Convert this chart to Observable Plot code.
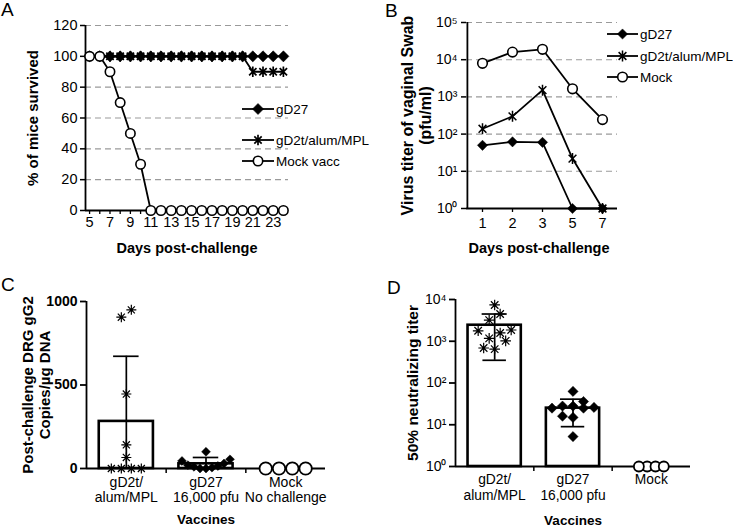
<!DOCTYPE html>
<html><head><meta charset="utf-8">
<script src="https://cdn.jsdelivr.net/npm/d3@7"></script>
<script src="https://cdn.jsdelivr.net/npm/@observablehq/plot@0.6"></script>
<style>
body{margin:0;background:#fff;}
#wrap{position:relative;width:733px;height:528px;overflow:hidden;font-family:"Liberation Sans",Arial,Helvetica,sans-serif;color:#000;background:#fff;}
.letter{position:absolute;font-size:19px;line-height:1;}
</style></head><body><div id="wrap"></div>
<script>
// ---------- Panel A data ----------
const daysA = [5,6,7,8,9,10,11,12,13,14,15,16,17,18,19,20,21,22,23,24];
const survivalGD27 = [100,100,100,100,100,100,100,100,100,100,100,100,100,100,100,100,100,100,100,100];
const survivalGD2t = [100,100,100,100,100,100,100,100,100,100,100,100,100,100,100,100,90,90,90,90];
const survivalMock = [100,100,90,70,50,30,0,0,0,0,0,0,0,0,0,0,0,0,0,0];
const yTicksA = [0,20,40,60,80,100,120];
const xLabelsA = [5,7,9,11,13,15,17,19,21,23];
const legendA = ["gD27","gD2t/alum/MPL","Mock vacc"];

// ---------- Panel B data ----------
const daysB = ["1","2","3","5","7"];
const titerGD27 = [50, 62, 60, 1, 1];
const titerGD2t = [139, 300, 1520, 22, 1];
const titerMock = [8000, 16000, 19000, 1650, 245];
const yTicksB = [1,10,100,1000,10000,100000];
const legendB = ["gD27","gD2t/alum/MPL","Mock"];

// ---------- Panel C data ----------
const groupLabelsC = ["gD2t/\nalum/MPL", "gD27\n16,000 pfu", "Mock\nNo challenge"];
const dnaGD2t = [950, 906, 446, 142, 66, 0, 0, 0, 0];
const dnaGD27 = [100, 55, 45, 30, 20, 15, 10, 5, 0, 0];
const dnaMock = [0, 0, 0, 0];
const dnaMean = [282, 28, 0];
const dnaSD = [390, 38, 0];
const yTicksC = [0, 500, 1000];

// ---------- Panel D data ----------
const groupLabelsD = ["gD2t/\nalum/MPL", "gD27\n16,000 pfu", "Mock"];
const ntGD2t = [7400, 4500, 3200, 1860, 1780, 1580, 1170, 1020, 690, 650];
const ntGD27 = [63, 36, 28, 28, 26, 25, 25, 16, 15, 5.2];
const ntMock = [1, 1, 1, 1];
const ntMean = [2420, 25, 1];
const ntSD = [2070, 16, 0];
const yTicksD = [1, 10, 100, 1000, 10000];

// ---------- helpers ----------
const FONT = '"Liberation Sans", Arial, Helvetica, sans-serif';
const wrap = document.getElementById("wrap");
function place(node, left, top) {
  node.style.position = "absolute"; node.style.left = left + "px"; node.style.top = top + "px";
  wrap.appendChild(node);
}
const baseStyle = {fontFamily: FONT, fontSize: "14px", color: "#000", background: "transparent", overflow: "visible"};
const SUP = {"0":"\u2070","1":"\u00b9","2":"\u00b2","3":"\u00b3","4":"\u2074","5":"\u2075"};
const pow10 = d => "10" + String(Math.round(Math.log10(d))).split("").map(c => SUP[c]).join("");
const star6 = {draw(ctx, size) { const r = Math.sqrt(size / Math.PI), d = r * Math.SQRT1_2;
  ctx.moveTo(0, -r); ctx.lineTo(0, r); ctx.moveTo(-d, -d); ctx.lineTo(d, d); ctx.moveTo(-d, d); ctx.lineTo(d, -d); }};
const star8 = {draw(ctx, size) { const r = Math.sqrt(size / Math.PI), d = r * Math.SQRT1_2;
  ctx.moveTo(0, -r); ctx.lineTo(0, r); ctx.moveTo(-r, 0); ctx.lineTo(r, 0);
  ctx.moveTo(-d, -d); ctx.lineTo(d, d); ctx.moveTo(-d, d); ctx.lineTo(d, -d); }};
const GRID = {stroke: "#9a9a9a", strokeDasharray: "6,4", strokeWidth: 1.1};
const YTITLE = {frameAnchor: "left", rotate: -90, textAnchor: "middle", lineAnchor: "middle", fontWeight: "bold", lineHeight: 1.12};
const XTITLE = {frameAnchor: "bottom", lineAnchor: "middle", fontWeight: "bold"};

function legend(items, left, top, x0, x1, rowYs) {
  const svg = d3.create("svg").attr("width", 160).attr("height", 100).style("overflow", "visible");
  items.forEach((it, k) => {
    const y = rowYs[k];
    svg.append("line").attr("x1", x0).attr("x2", x1).attr("y1", y).attr("y2", y)
      .attr("stroke", "#000").attr("stroke-width", 1.8);
    svg.append("path").attr("transform", `translate(${(x0 + x1) / 2},${y})`)
      .attr("d", d3.symbol(it.symbol, Math.PI * it.r * it.r)())
      .attr("fill", it.fill).attr("stroke", it.stroke).attr("stroke-width", it.sw);
    svg.append("text").attr("x", x1 + 2).attr("y", y).attr("dy", "0.35em")
      .attr("font-family", FONT).attr("font-size", 13.5).text(it.label);
  });
  place(svg.node(), left, top);
}
function letter(t, left, top) {
  const d = document.createElement("div"); d.className = "letter"; d.textContent = t; place(d, left, top);
}

// ---------- Panel A ----------
{
  const rows = vals => daysA.map((d, i) => ({day: d, v: vals[i]}));
  const series = [
    {vals: survivalGD2t, symbol: star6, r: 5.2, fill: "none", stroke: "#000", sw: 1.7},
    {vals: survivalGD27, symbol: "diamond2", r: 5, fill: "#000", stroke: "#000", sw: 0.5},
    {vals: survivalMock, symbol: "circle", r: 4.7, fill: "#fff", stroke: "#000", sw: 1.6}
  ];
  const plot = Plot.plot({
    width: 365, height: 260, marginLeft: 85, marginRight: 77, marginTop: 25, marginBottom: 50,
    style: baseStyle,
    x: {domain: [4.6, 24.5]}, y: {domain: [0, 120]},
    marks: [
      Plot.ruleY(yTicksA.filter(t => t > 0), GRID),
      Plot.axisY({ticks: yTicksA, tickSize: 5, tickPadding: 3, label: null, strokeWidth: 1.5, fontSize: 14.5}),
      Plot.axisX({ticks: daysA, tickSize: 4, tickPadding: 2, label: null, strokeWidth: 1.3, fontSize: 14.5,
        tickFormat: d => xLabelsA.includes(d) ? String(d) : ""}),
      Plot.ruleX([4.6], {strokeWidth: 1.8}),
      Plot.ruleY([0], {strokeWidth: 1.8}),
      ...series.flatMap(s => [
        Plot.line(rows(s.vals), {x: "day", y: "v", strokeWidth: 1.8}),
        Plot.dot(rows(s.vals), {x: "day", y: "v", symbol: s.symbol, r: s.r, fill: s.fill, stroke: s.stroke, strokeWidth: s.sw})
      ]),
      Plot.text(["Days post-challenge"], {...XTITLE, dy: 38, fontSize: 14.5}),
      Plot.text(["% of mice survived"], {...YTITLE, dx: -53, fontSize: 15})
    ]
  });
  place(plot, 0, 0);
  legend([
    {label: legendA[0], symbol: d3.symbolDiamond2, r: 5, fill: "#000", stroke: "#000", sw: 0.5},
    {label: legendA[1], symbol: star6, r: 5.2, fill: "none", stroke: "#000", sw: 1.7},
    {label: legendA[2], symbol: d3.symbolCircle, r: 4.7, fill: "#fff", stroke: "#000", sw: 1.6}
  ], 0, 0, 242, 274, [109, 140, 161]);
  letter("A", 1, 0);
}

// ---------- Panel B ----------
{
  const rows = vals => daysB.map((d, i) => ({day: d, v: vals[i]}));
  const series = [
    {vals: titerGD2t, symbol: star6, r: 5.5, fill: "none", stroke: "#000", sw: 1.5},
    {vals: titerGD27, symbol: "diamond2", r: 4.6, fill: "#000", stroke: "#000", sw: 0.5},
    {vals: titerMock, symbol: "circle", r: 4.8, fill: "#fff", stroke: "#000", sw: 1.6}
  ];
  const plot = Plot.plot({
    width: 363, height: 260, marginLeft: 96, marginRight: 116, marginTop: 22, marginBottom: 52,
    style: baseStyle,
    x: {type: "point", domain: daysB, padding: 0.5},
    y: {type: "log", domain: [1, 100000]},
    marks: [
      Plot.ruleY(yTicksB.filter(t => t > 1), GRID),
      Plot.axisY({ticks: yTicksB, tickSize: 5, tickPadding: 4, label: null, tickFormat: pow10, strokeWidth: 1.5, fontSize: 14}),
      Plot.axisX({tickSize: 4, tickPadding: 5, label: null, strokeWidth: 1.3, fontSize: 14.5}),
      Plot.ruleX(["1"], {dx: -15.1, strokeWidth: 1.8}),
      Plot.ruleY([1], {strokeWidth: 1.8}),
      ...series.flatMap(s => [
        Plot.line(rows(s.vals), {x: "day", y: "v", strokeWidth: 1.8}),
        Plot.dot(rows(s.vals), {x: "day", y: "v", symbol: s.symbol, r: s.r, fill: s.fill, stroke: s.stroke, strokeWidth: s.sw})
      ]),
      Plot.text(["Days post-challenge"], {...XTITLE, dy: 40, dx: -3, fontSize: 14.5}),
      Plot.text(["Virus titer of vaginal Swab\n(pfu/ml)"], {...YTITLE, dx: -50, fontSize: 16})
    ]
  });
  place(plot, 370, 0);
  legend([
    {label: legendB[0], symbol: d3.symbolDiamond2, r: 4.6, fill: "#000", stroke: "#000", sw: 0.5},
    {label: legendB[1], symbol: star6, r: 5.5, fill: "none", stroke: "#000", sw: 1.5},
    {label: legendB[2], symbol: d3.symbolCircle, r: 4.8, fill: "#fff", stroke: "#000", sw: 1.6}
  ], 370, 0, 237, 268, [34, 56, 77]);
  letter("B", 385, 1);
}

// ---------- column scatter helper (C, D) ----------
function swarm(values, ypx, thresh, spacing) {
  const idx = values.map((v, i) => i).sort((a, b) => ypx(values[b]) - ypx(values[a]));
  const off = new Array(values.length).fill(0);
  let bin = [], start = null;
  const flush = () => {
    const n = bin.length;
    const slots = d3.range(n).map(k => (k - (n - 1) / 2) * spacing).sort((a, b) => Math.abs(a) - Math.abs(b) || a - b);
    const ordered = bin.slice().sort((a, b) => values[a] - values[b]);
    ordered.forEach((j, k) => off[j] = slots[k]);
    bin = [];
  };
  for (const j of idx) {
    const y = ypx(values[j]);
    if (bin.length && Math.abs(y - start) >= thresh) flush();
    if (!bin.length) start = y;
    bin.push(j);
  }
  flush();
  return off;
}

function columnPlot(cfg) {
  const {width, height, ml, mr, mt, mb, yType, yDomain, groups, labels, labelSize, means, sds, ticks, tickFormat, tickWeight, yLabel, yLabelDx, yLabelSize, xLabelDy} = cfg;
  const ymin = yDomain[0];
  const yScale = Plot.scale({y: {type: yType, domain: yDomain, range: [height - mb, mt]}});
  const step = (width - ml - mr) / 3;
  const bars = means.map((m, i) => ({i, mean: m, sd: sds[i]})).filter(d => d.mean > ymin);
  const errs = bars.filter(d => d.sd > 0);
  const capsHi = errs.map(d => ({i: d.i, y: d.mean + d.sd}));
  const capsLo = errs.filter(d => d.mean - d.sd > ymin).map(d => ({i: d.i, y: d.mean - d.sd}));
  const dotMarks = groups.map((g, gi) => {
    const off = swarm(g.values, v => yScale.apply(v), 10, g.spacing);
    const rows = g.values.map((v, k) => ({x: gi + off[k] / step, v}));
    return Plot.dot(rows, {x: "x", y: "v", symbol: g.symbol, r: g.r, fill: g.fill, stroke: g.stroke, strokeWidth: g.sw});
  });
  return Plot.plot({
    width, height, marginLeft: ml, marginRight: mr, marginTop: mt, marginBottom: mb,
    style: baseStyle,
    x: {domain: [-0.5, 2.5]},
    y: {type: yType, domain: yDomain},
    marks: [
      Plot.axisY({ticks, tickSize: 6, tickPadding: 3, label: null, tickFormat, fontWeight: tickWeight, strokeWidth: 1.8, fontSize: 14}),
      Plot.axisX({ticks: [0.5, 1.5], tickSize: 5, tickFormat: () => "", label: null, strokeWidth: 1.5}),
      Plot.axisX({ticks: [0, 1, 2], tickSize: 0, tickPadding: 7, label: null, tickFormat: i => labels[i], fontSize: labelSize, lineHeight: 1.12}),
      Plot.rect(bars, {x1: d => d.i - 0.34, x2: d => d.i + 0.34, y1: () => ymin, y2: "mean", fill: "#fff", stroke: "#000", strokeWidth: 2.6}),
      Plot.ruleX(errs, {x: "i", y1: d => Math.max(ymin, d.mean - d.sd), y2: d => d.mean + d.sd, strokeWidth: 1.7}),
      Plot.ruleY(capsHi, {x1: d => d.i - 0.16, x2: d => d.i + 0.16, y: "y", strokeWidth: 1.7}),
      Plot.ruleY(capsLo, {x1: d => d.i - 0.15, x2: d => d.i + 0.15, y: "y", strokeWidth: 1.7}),
      Plot.ruleX([-0.5], {strokeWidth: 1.8}),
      Plot.ruleY([ymin], {strokeWidth: 1.8}),
      ...dotMarks,
      Plot.text(["Vaccines"], {...XTITLE, dy: xLabelDy, fontSize: 13.5}),
      Plot.text([yLabel], {...YTITLE, dx: yLabelDx, fontSize: yLabelSize})
    ]
  });
}

// ---------- Panel C ----------
{
  const plot = columnPlot({
    width: 365, height: 268, ml: 86, mr: 40, mt: 41, mb: 60,
    yType: "linear", yDomain: [0, 1000], ticks: yTicksC, tickFormat: d => String(d), tickWeight: "bold",
    labels: groupLabelsC, labelSize: 14, means: dnaMean, sds: dnaSD,
    groups: [
      {values: dnaGD2t, symbol: star8, r: 5, fill: "none", stroke: "#000", sw: 1.2, spacing: 10},
      {values: dnaGD27, symbol: "diamond2", r: 4, fill: "#000", stroke: "#000", sw: 0.5, spacing: 6},
      {values: dnaMock, symbol: "circle", r: 6.2, fill: "#fff", stroke: "#000", sw: 1.8, spacing: 13.3}
    ],
    yLabel: "Post-challenge DRG gG2\nCopies/\u00b5g DNA", yLabelDx: -50, yLabelSize: 15, xLabelDy: 51
  });
  place(plot, 0, 260);
  letter("C", 1, 275);
}

// ---------- Panel D ----------
{
  const plot = columnPlot({
    width: 363, height: 268, ml: 85, mr: 43, mt: 39, mb: 62,
    yType: "log", yDomain: [1, 10000], ticks: yTicksD, tickFormat: pow10, tickWeight: "normal",
    labels: groupLabelsD, labelSize: 13.8, means: ntMean, sds: ntSD,
    groups: [
      {values: ntGD2t, symbol: star8, r: 5.3, fill: "none", stroke: "#000", sw: 1.2, spacing: 11},
      {values: ntGD27, symbol: "diamond2", r: 4.6, fill: "#000", stroke: "#000", sw: 0.5, spacing: 10.5},
      {values: ntMock, symbol: "circle", r: 5, fill: "#fff", stroke: "#000", sw: 1.8, spacing: 8.3}
    ],
    yLabel: "50% neutralizing titer", yLabelDx: -43, yLabelSize: 15.5, xLabelDy: 54
  });
  place(plot, 370, 260);
  letter("D", 387, 278);
}
</script></body></html>
